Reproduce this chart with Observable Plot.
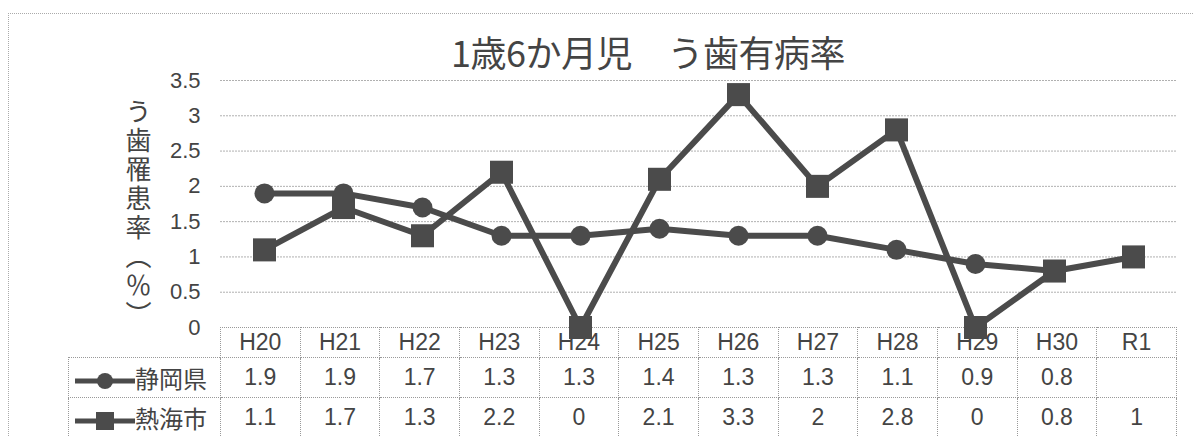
<!DOCTYPE html>
<html>
<head>
<meta charset="utf-8">
<script src="https://cdn.jsdelivr.net/npm/d3@7"></script>
<script src="https://cdn.jsdelivr.net/npm/@observablehq/plot@0.6"></script>
<style>
  html, body { margin: 0; padding: 0; background: #fff; }
  #wrap { position: relative; width: 1194px; height: 437px; overflow: hidden; font-family: "Noto Sans CJK JP", "Liberation Sans", sans-serif; color: #444; }
  #frame { position: absolute; left: 8px; top: 13px; width: 1200px; height: 440px; border-top: 1px dotted #aaa; border-left: 1px dotted #aaa; }
  #title { position: absolute; left: 0; width: 1296px; top: 26px; text-align: center; font-size: 36px; line-height: 50px; color: #444; letter-spacing: -0.5px; }
  #ylabel { position: absolute; left: 124px; top: 98px; writing-mode: vertical-rl; font-size: 26px; line-height: 28px; letter-spacing: 3px; color: #444; }
  #tbl { position: absolute; left: 68px; top: 327px; border-collapse: collapse; table-layout: fixed; font-family: "Liberation Sans", "Noto Sans CJK JP", sans-serif; color: #444; }
  #tbl td { border: 1px dotted #999; text-align: center; padding: 0; font-size: 23px; overflow: hidden; white-space: nowrap; }
  #tbl td.blank { border: none; }
  #tbl td.leg { font-family: "Noto Sans CJK JP", sans-serif; text-align: left; font-size: 24px; }
  #tbl td.leg svg { vertical-align: middle; }
  #chart { position: absolute; left: 0; top: 0; pointer-events: none; }
</style>
</head>
<body>
<div id="wrap">
  <div id="frame"></div>
  <div id="title"></div>
  <div id="ylabel"></div>
  <table id="tbl"></table>
  <div id="chart"></div>
</div>
<script>
const title = "1歳6か月児　う歯有病率";
const yLabel = "う歯罹患率（％）";
const categories = ["H20","H21","H22","H23","H24","H25","H26","H27","H28","H29","H30","R1"];
const seriesNames = ["静岡県", "熱海市"];
const shizuoka = [1.9, 1.9, 1.7, 1.3, 1.3, 1.4, 1.3, 1.3, 1.1, 0.9, 0.8, null];
const atami = [1.1, 1.7, 1.3, 2.2, 0, 2.1, 3.3, 2, 2.8, 0, 0.8, 1];
const yTicks = [0, 0.5, 1, 1.5, 2, 2.5, 3, 3.5];

const W = 1194, H = 437;
const mL = 220, mR = 18, mT = 80, mB = 110;
const colW = (W - mL - mR) / categories.length;
const lineColor = "#4b4b4b";

document.getElementById("title").textContent = title;
document.getElementById("ylabel").textContent = yLabel;

const rows = [];
categories.forEach((c, i) => {
  if (shizuoka[i] != null) rows.push({cat: c, v: shizuoka[i], s: seriesNames[0]});
});
categories.forEach((c, i) => {
  if (atami[i] != null) rows.push({cat: c, v: atami[i], s: seriesNames[1]});
});

const chart = Plot.plot({
  width: W, height: H,
  marginLeft: mL, marginRight: mR, marginTop: mT, marginBottom: mB,
  style: {background: "transparent", overflow: "visible"},
  x: {type: "point", domain: categories, padding: 0.5, axis: null},
  y: {domain: [0, 3.5], ticks: yTicks, tickFormat: d => String(d), label: null},
  marks: [
    Plot.ruleY(yTicks.filter(d => d > 0), {stroke: "#b0b0b0", strokeDasharray: "2,1", strokeWidth: 1}),
    Plot.axisY({ticks: yTicks, tickFormat: d => String(d), tickSize: 0, tickPadding: 20, fontSize: 22, fill: "#444", label: null, fontFamily: "Liberation Sans, sans-serif"}),
    Plot.line(rows.filter(d => d.s === seriesNames[0]), {x: "cat", y: "v", stroke: lineColor, strokeWidth: 6}),
    Plot.dot(rows.filter(d => d.s === seriesNames[0]), {x: "cat", y: "v", r: 10, fill: lineColor, symbol: "circle"}),
    Plot.line(rows.filter(d => d.s === seriesNames[1]), {x: "cat", y: "v", stroke: lineColor, strokeWidth: 6}),
    Plot.dot(rows.filter(d => d.s === seriesNames[1]), {x: "cat", y: "v", r: 13, fill: lineColor, symbol: "square"})
  ]
});
document.getElementById("chart").appendChild(chart);

// data table
const tbl = document.getElementById("tbl");
const legW = mL - 68;
function legendSvg(kind) {
  const ns = "http://www.w3.org/2000/svg";
  const s = document.createElementNS(ns, "svg");
  s.setAttribute("width", 66); s.setAttribute("height", 26);
  const l = document.createElementNS(ns, "line");
  l.setAttribute("x1", 6); l.setAttribute("x2", 66); l.setAttribute("y1", 13); l.setAttribute("y2", 13);
  l.setAttribute("stroke", lineColor); l.setAttribute("stroke-width", 5);
  s.appendChild(l);
  if (kind === 0) {
    const c = document.createElementNS(ns, "circle");
    c.setAttribute("cx", 36); c.setAttribute("cy", 13); c.setAttribute("r", 8); c.setAttribute("fill", lineColor);
    s.appendChild(c);
  } else {
    const r = document.createElementNS(ns, "rect");
    r.setAttribute("x", 27); r.setAttribute("y", 4); r.setAttribute("width", 18); r.setAttribute("height", 18); r.setAttribute("fill", lineColor);
    s.appendChild(r);
  }
  return s;
}
const colgroup = document.createElement("colgroup");
const c0 = document.createElement("col"); c0.style.width = legW + "px"; colgroup.appendChild(c0);
categories.forEach(() => { const c = document.createElement("col"); c.style.width = colW + "px"; colgroup.appendChild(c); });
tbl.appendChild(colgroup);
tbl.style.width = (legW + colW * categories.length) + "px";

const hr = document.createElement("tr"); hr.style.height = "30px";
const blank = document.createElement("td"); blank.className = "blank"; hr.appendChild(blank);
categories.forEach(c => { const td = document.createElement("td"); td.textContent = c; hr.appendChild(td); });
tbl.appendChild(hr);

[shizuoka, atami].forEach((vals, k) => {
  const tr = document.createElement("tr"); tr.style.height = "40px";
  const td0 = document.createElement("td"); td0.className = "leg";
  td0.appendChild(legendSvg(k));
  td0.appendChild(document.createTextNode(seriesNames[k]));
  tr.appendChild(td0);
  vals.forEach(v => { const td = document.createElement("td"); td.textContent = v == null ? "" : String(v); tr.appendChild(td); });
  tbl.appendChild(tr);
});
</script>
</body>
</html>
